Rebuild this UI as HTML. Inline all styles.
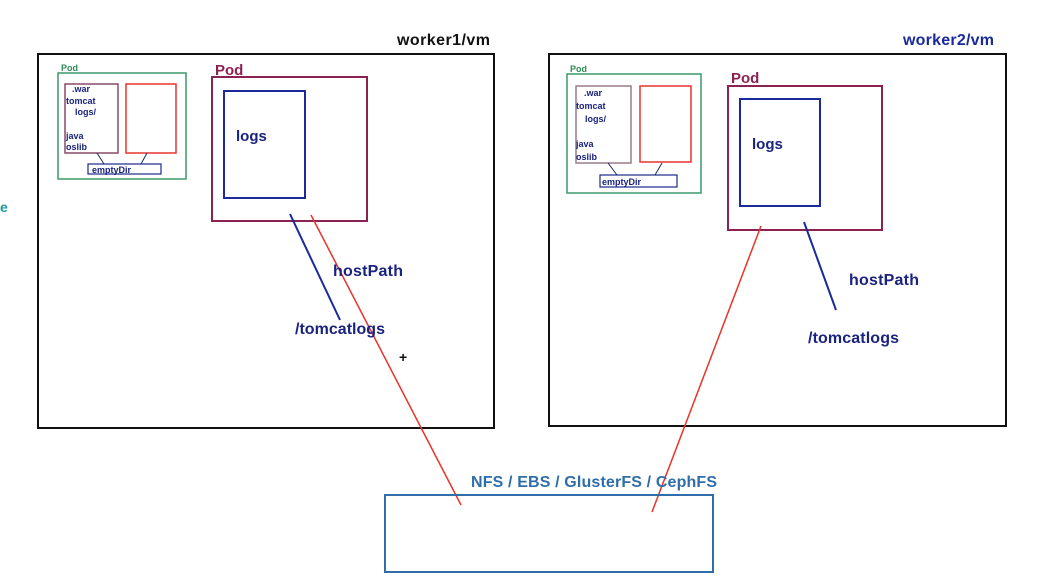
<!DOCTYPE html>
<html><head><style>body{margin:0;background:#fff}svg{display:block}text{font-family:"Liberation Sans",Arial,sans-serif;font-weight:bold}</style></head>
<body>
<svg width="1048" height="583" viewBox="0 0 1048 583">
<rect x="0" y="0" width="1048" height="583" fill="#fff"/>
<text x="0" y="212" font-size="14" fill="#1a9a9a">e</text>
<!-- worker1 -->
<rect x="38" y="54" width="456" height="374" fill="none" stroke="#111" stroke-width="2"/>
<text x="397" y="45" font-size="16" textLength="93" fill="#111">worker1/vm</text>
<text x="61" y="71" font-size="9" fill="#2e8b57">Pod</text>
<rect x="58" y="73" width="128" height="106" fill="none" stroke="#3a9a6a" stroke-width="1.5"/>
<rect x="65" y="84" width="53" height="69" fill="none" stroke="#8a4a6a" stroke-width="1.5"/>
<rect x="126" y="84" width="50" height="69" fill="none" stroke="#e8332a" stroke-width="1.5"/>
<rect x="88" y="164" width="73" height="10" fill="none" stroke="#1a2a8a" stroke-width="1.2"/>
<line x1="97" y1="153" x2="104" y2="164" stroke="#1a2a6a"/><line x1="147" y1="153" x2="141" y2="164" stroke="#1a2a6a"/>
<g font-size="9" fill="#1a237e"><text x="72" y="92">.war</text><text x="66" y="104">tomcat</text><text x="75" y="115">logs/</text><text x="66" y="139">java</text><text x="66" y="150">oslib</text><text x="92" y="173">emptyDir</text></g>
<text x="215" y="75" font-size="15" fill="#8b2252">Pod</text>
<rect x="212" y="77" width="155" height="144" fill="none" stroke="#8b2252" stroke-width="2"/>
<rect x="224" y="91" width="81" height="107" fill="none" stroke="#1a2a9a" stroke-width="2"/>
<text x="236" y="141" font-size="15" fill="#1a237e">logs</text>
<line x1="290" y1="214" x2="340" y2="320" stroke="#1a2a9a" stroke-width="2"/>
<line x1="311" y1="215" x2="461" y2="505" stroke="#e8332a" stroke-width="1.5"/>
<text x="333" y="276" font-size="16" textLength="70" fill="#1a237e">hostPath</text>
<text x="295" y="334" font-size="16" textLength="90" fill="#1a237e">/tomcatlogs</text>
<text x="399" y="362" font-size="14" font-weight="normal" fill="#111">+</text>
<!-- worker2 -->
<rect x="549" y="54" width="457" height="372" fill="none" stroke="#111" stroke-width="2"/>
<text x="903" y="45" font-size="16" textLength="91" fill="#1a2a9a">worker2/vm</text>
<text x="570" y="72" font-size="9" fill="#2e8b57">Pod</text>
<rect x="567" y="74" width="134" height="119" fill="none" stroke="#3a9a6a" stroke-width="1.5"/>
<rect x="576" y="86" width="55" height="77" fill="none" stroke="#9a7a8a" stroke-width="1.5"/>
<rect x="640" y="86" width="51" height="76" fill="none" stroke="#e8332a" stroke-width="1.5"/>
<rect x="600" y="175" width="77" height="12" fill="none" stroke="#1a2a8a" stroke-width="1.2"/>
<line x1="608" y1="163" x2="617" y2="175" stroke="#1a2a6a"/><line x1="662" y1="163" x2="655" y2="175" stroke="#1a2a6a"/>
<g font-size="9" fill="#1a237e"><text x="584" y="96">.war</text><text x="576" y="109">tomcat</text><text x="585" y="122">logs/</text><text x="576" y="147">java</text><text x="576" y="160">oslib</text><text x="602" y="185">emptyDir</text></g>
<text x="731" y="83" font-size="15" fill="#8b2252">Pod</text>
<rect x="728" y="86" width="154" height="144" fill="none" stroke="#8b2252" stroke-width="2"/>
<rect x="740" y="99" width="80" height="107" fill="none" stroke="#1a2a9a" stroke-width="2"/>
<text x="752" y="149" font-size="15" fill="#1a237e">logs</text>
<line x1="804" y1="222" x2="836" y2="310" stroke="#1a2a9a" stroke-width="2"/>
<line x1="761" y1="226" x2="652" y2="512" stroke="#e8332a" stroke-width="1.5"/>
<text x="849" y="285" font-size="16" textLength="70" fill="#1a237e">hostPath</text>
<text x="808" y="343" font-size="16" textLength="91" fill="#1a237e">/tomcatlogs</text>
<!-- NFS -->
<text x="471" y="487" font-size="16" textLength="246" fill="#2f6ea8">NFS / EBS / GlusterFS / CephFS</text>
<rect x="385" y="495" width="328" height="77" fill="none" stroke="#2f6ea8" stroke-width="2"/>
</svg>
</body></html>
